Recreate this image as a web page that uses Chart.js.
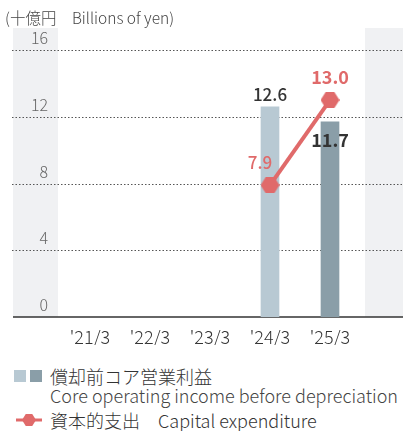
<!DOCTYPE html>
<html>
<head>
<meta charset="utf-8">
<script src="https://cdn.jsdelivr.net/npm/chart.js@4"></script>
<style>
  body { margin: 0; background: #fff; }
  #wrap { position: relative; width: 403px; height: 431px; overflow: hidden;
    font-family: "Noto Sans CJK JP", "Noto Sans", sans-serif; color: #333; }
  #title { position: absolute; left: 5px; top: 6px; font-size: 15.5px; color: #444; white-space: nowrap; font-weight: 300; }
  #cv { position: absolute; left: 0; top: 0; }
  .leg { position: absolute; white-space: nowrap; font-size: 18px; line-height: 20px; font-weight: 300; }
  .sq { position: absolute; width: 12px; height: 12px; }
</style>
</head>
<body>
<div id="wrap">
  <canvas id="cv" width="403" height="345"></canvas>
  <div id="title">(十億円　Billions of yen)</div>
  <div class="sq" style="left:14px; top:370px; background:#b8c9d3"></div>
  <div class="sq" style="left:30px; top:370px; background:#8a9ea8"></div>
  <div class="leg" style="left:50px; top:366px; color:#333">償却前コア営業利益</div>
  <div class="leg" style="left:50px; top:385px; color:#444">Core operating income before depreciation</div>
  <canvas id="legline" width="30" height="20" style="position:absolute; left:14px; top:410px"></canvas>
  <div class="leg" style="left:50px; top:410px; color:#333">資本的支出　Capital expenditure</div>
</div>
<script>
// data
const labels = ["'21/3", "'22/3", "'23/3", "'24/3", "'25/3"];
const coreIncome = [null, null, null, 12.6, 11.7];
const capex = [null, null, null, 7.9, 13.0];
const yTicks = [0, 4, 8, 12, 16];

const RED = "#e06a6a";
const FONT = "'Noto Sans CJK JP', 'Noto Sans', sans-serif";

function hexagon(w, h) {
  const c = document.createElement("canvas");
  c.width = w; c.height = h;
  const g = c.getContext("2d");
  g.fillStyle = RED;
  g.beginPath();
  g.moveTo(0, h / 2);
  g.lineTo(w * 0.27, 0);
  g.lineTo(w * 0.73, 0);
  g.lineTo(w, h / 2);
  g.lineTo(w * 0.73, h);
  g.lineTo(w * 0.27, h);
  g.closePath();
  g.fill();
  return c;
}
const hex = hexagon(19, 16);

// legend line marker
(function () {
  const g = document.getElementById("legline").getContext("2d");
  g.strokeStyle = RED; g.lineWidth = 3;
  g.beginPath(); g.moveTo(2, 10); g.lineTo(28, 10); g.stroke();
  const small = hexagon(14, 12);
  g.drawImage(small, 8, 4);
})();

// gray side bands + grid lines across full width (drawn before the axes)
const backdrop = {
  id: "backdrop",
  beforeDraw(chart) {
    const ctx = chart.ctx, a = chart.chartArea, y = chart.scales.y;
    const top = 28, bottom = y.getPixelForValue(0);
    ctx.save();
    ctx.fillStyle = "#f0f1f3";
    ctx.fillRect(13, top, a.left - 2 - 13, bottom - top);
    ctx.fillRect(a.right + 5, top, chart.width - a.right - 5, bottom - top);
    ctx.strokeStyle = "#555";
    ctx.lineWidth = 1;
    ctx.setLineDash([1.5, 2]);
    yTicks.forEach(v => {
      if (v === 0) return;
      const py = Math.round(y.getPixelForValue(v)) + 0.5;
      ctx.beginPath(); ctx.moveTo(12, py); ctx.lineTo(chart.width, py); ctx.stroke();
    });
    ctx.setLineDash([]);
    ctx.strokeStyle = "#333";
    ctx.lineWidth = 1.5;
    ctx.beginPath(); ctx.moveTo(13, bottom); ctx.lineTo(chart.width, bottom); ctx.stroke();
    ctx.restore();
  }
};

// value labels
const valueLabels = {
  id: "valueLabels",
  afterDatasetsDraw(chart) {
    const ctx = chart.ctx;
    ctx.save();
    ctx.textAlign = "center";
    ctx.textBaseline = "middle";
    const bars = chart.getDatasetMeta(0).data;
    const pts = chart.getDatasetMeta(1).data;
    // bars
    ctx.fillStyle = "#333";
    ctx.font = "500 17px " + FONT;
    ctx.fillText(coreIncome[3].toFixed(1), bars[3].x, bars[3].y - 12);
    ctx.font = "bold 18px " + FONT;
    ctx.fillText(coreIncome[4].toFixed(1), bars[4].x, bars[4].y + 18);
    // line
    ctx.fillStyle = RED;
    ctx.font = "500 17px " + FONT;
    ctx.fillText(capex[3].toFixed(1), pts[3].x - 10, pts[3].y - 23);
    ctx.font = "bold 18px " + FONT;
    ctx.fillText(capex[4].toFixed(1), pts[4].x, pts[4].y - 23);
    ctx.restore();
  }
};

new Chart(document.getElementById("cv"), {
  data: {
    labels: labels,
    datasets: [
      {
        type: "bar",
        data: coreIncome,
        backgroundColor: ["#b8c9d3", "#b8c9d3", "#b8c9d3", "#b8c9d3", "#8a9ea8"],
        barThickness: 18,
        order: 2
      },
      {
        type: "line",
        data: capex,
        borderColor: RED,
        borderWidth: 4,
        pointStyle: hex,
        pointRadius: 9,
        pointHoverRadius: 9,
        spanGaps: false,
        order: 1
      }
    ]
  },
  options: {
    responsive: false,
    animation: false,
    layout: { padding: { top: 50, right: 43, left: 0, bottom: 0 } },
    plugins: { legend: { display: false }, tooltip: { enabled: false } },
    scales: {
      x: {
        grid: { display: false },
        border: { display: false },
        ticks: { color: "#333", font: { size: 18, family: FONT, weight: 300 }, padding: 1 },
        afterFit(s) { s.height = 28; }
      },
      y: {
        min: 0, max: 16,
        afterBuildTicks(s) { s.ticks = yTicks.map(v => ({ value: v })); },
        grid: { display: false, drawTicks: false },
        border: { display: false },
        ticks: {
          color: "#666",
          font: { size: 16, family: FONT, weight: 300 },
          padding: 12,
          labelOffset: -12
        },
        afterFit(s) { s.width = 60; }
      }
    }
  },
  plugins: [backdrop, valueLabels]
});
</script>
</body>
</html>
